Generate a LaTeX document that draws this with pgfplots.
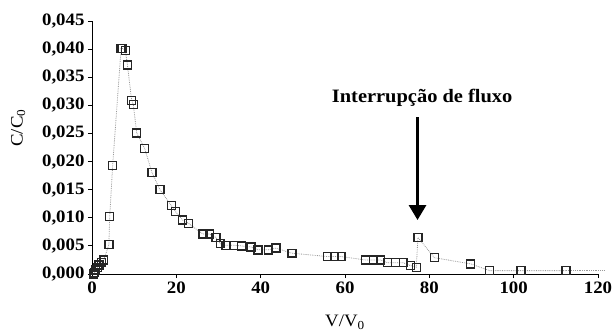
\documentclass[border=0pt]{standalone}
\usepackage{pgfplots}
\pgfplotsset{compat=1.18}
\usepackage{fontspec}
\setmainfont[FakeStretch=1.08]{Liberation Serif}
\usetikzlibrary{arrows.meta}
\begin{document}
\begin{tikzpicture}
\useasboundingbox (-92bp,-58bp) rectangle (520bp,274bp);
\begin{axis}[
  at={(0,0)}, anchor=south west,
  scale only axis, width=506bp, height=253bp,
  xmin=0, xmax=120, ymin=0, ymax=0.045,
  axis x line=bottom, axis y line=left,
  axis line style={-, line width=1pt},
  tick style={line width=1pt, black},
  tick align=outside, major tick length=4bp,
  xtick={0,20,...,120},
  ytick={0,0.005,...,0.045},
  clip=false,
  /pgf/number format/assume math mode=true,
  yticklabel style={/pgf/number format/.cd, fixed, fixed zerofill, precision=3, use comma},
  scaled y ticks=false,
  tick label style={font=\fontsize{17.5}{19}\selectfont\bfseries},
  xlabel={V/V\textsubscript{0}},
  ylabel={C/C\textsubscript{0}},
  label style={font=\fontsize{17.5}{19}\selectfont},
  xlabel style={at={(axis description cs:0.5,-0.19)}, anchor=center},
  ylabel style={at={(axis description cs:-0.146,0.577)}, anchor=center},
]
\addplot[densely dotted, color=gray!80, line width=0.8pt, mark=square, mark size=4pt,
  mark options={solid, draw=black!85, line width=1.4pt, fill=none}]
coordinates {
(0.3,0.0000) (0.6,0.0003) (0.9,0.0007) (1.3,0.0011) (1.7,0.0016) (2.2,0.0021) (2.8,0.0025)
(4.0,0.0052) (4.2,0.0102) (4.9,0.0193)
(6.9,0.0401) (7.3,0.0401) (7.9,0.0398) (8.4,0.0372) (9.4,0.0309) (9.8,0.0301)
(10.6,0.0251) (12.5,0.0223) (14.2,0.0181) (16.1,0.0150) (18.8,0.0122) (19.8,0.0111)
(21.5,0.0096) (22.9,0.0090) (26.3,0.0071) (27.9,0.0071) (29.4,0.0065) (30.4,0.0054)
(31.8,0.0051) (33.6,0.0051) (35.5,0.0050) (37.7,0.0048) (39.4,0.0043) (41.8,0.0043)
(43.6,0.0046) (47.4,0.0037) (55.9,0.0031) (57.5,0.0031) (59.1,0.0031)
(64.8,0.0025) (66.7,0.0025) (68.4,0.0025) (70.1,0.0020) (72.0,0.0020) (73.8,0.0020)
(75.5,0.0015) (76.9,0.0012) (77.3,0.0065) (81.2,0.0029) (89.8,0.0018)
(94.3,0.0006) (101.7,0.0006) (112.4,0.0006)
};
\addplot[densely dotted, color=gray!80, line width=0.8pt, mark=none]
coordinates {(112.4,0.0006) (121.4,0.0006)};
\node[font=\fontsize{19}{21}\selectfont\bfseries] at (axis cs:78.3,0.0314) {Interrupção de fluxo};
\draw[line width=3bp, -{Triangle[width=17bp,length=15bp]}] (axis cs:77.2,0.0279) -- (axis cs:77.2,0.0096);
\end{axis}
\end{tikzpicture}
\end{document}
